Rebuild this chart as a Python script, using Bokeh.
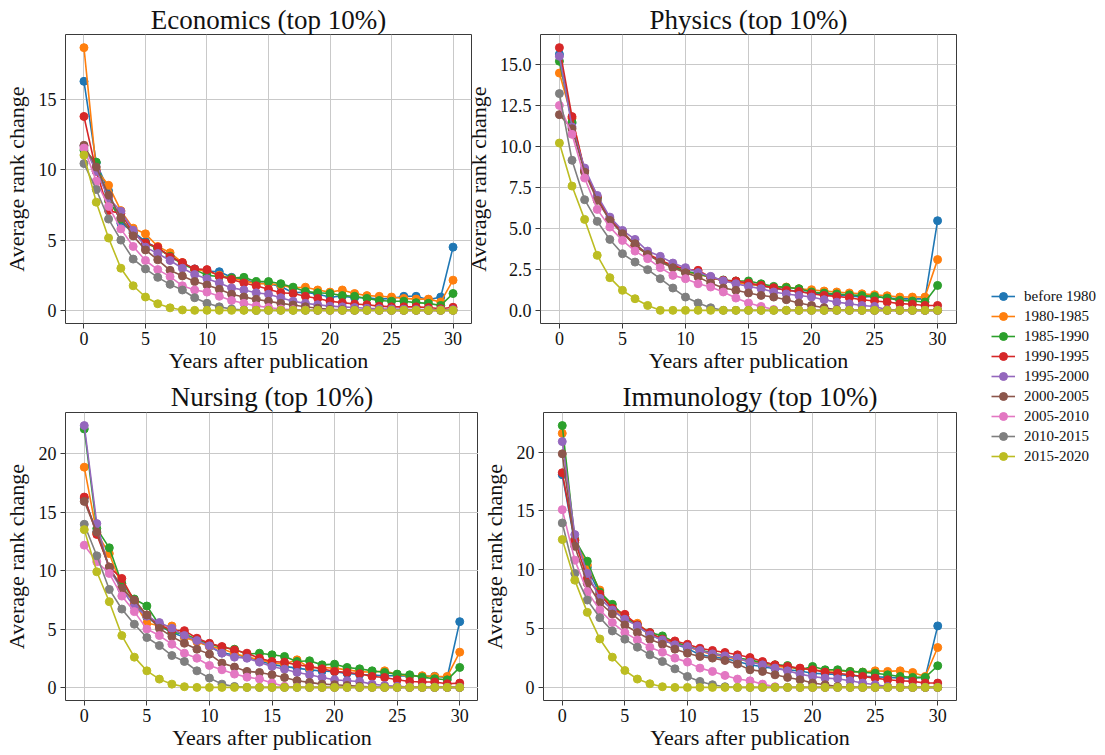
import math
from bokeh.plotting import figure
from bokeh.models import (FixedTicker, Range1d, Label, Legend, LegendItem,
                          NumeralTickFormatter)
from bokeh.layouts import row, column
from bokeh.embed import file_html
from bokeh.resources import INLINE

# ---------------- data ----------------
years = list(range(31))
x_ticks = [0, 5, 10, 15, 20, 25, 30]
series_labels = ["before 1980", "1980-1985", "1985-1990", "1990-1995", "1995-2000",
                 "2000-2005", "2005-2010", "2010-2015", "2015-2020"]
colors = ["#1f77b4", "#ff7f0e", "#2ca02c", "#d62728", "#9467bd",
          "#8c564b", "#e377c2", "#7f7f7f", "#bcbd22"]

econ_b1980 = [16.3, 10.5, 8.5, 6.2, 5.6, 4.9, 4.4, 3.9, 3.35, 2.95, 2.8, 2.75, 2.35, 2.2, 1.95, 1.9, 1.7, 1.25, 1.3, 1.15, 0.95, 1.0, 0.9, 0.9, 0.8, 0.85, 1.0, 1.0, 0.75, 0.95, 4.5]
econ_1980 = [18.7, 10.0, 8.9, 7.1, 5.85, 5.45, 4.55, 4.1, 3.4, 2.9, 2.8, 2.5, 2.3, 2.1, 1.9, 1.9, 1.8, 1.6, 1.65, 1.45, 1.3, 1.45, 1.2, 1.05, 1.0, 0.95, 0.85, 0.8, 0.8, 0.6, 2.15]
econ_1985 = [11.4, 10.55, 7.8, 6.5, 5.5, 4.8, 4.4, 3.85, 3.3, 2.9, 2.5, 2.4, 2.3, 2.35, 2.05, 2.05, 1.9, 1.65, 1.35, 1.25, 1.2, 1.05, 1.0, 0.85, 0.7, 0.65, 0.65, 0.55, 0.5, 0.35, 1.2]
econ_1990 = [13.8, 9.9, 7.1, 6.9, 5.5, 4.8, 4.5, 3.8, 3.4, 2.95, 2.9, 2.45, 2.2, 1.95, 1.75, 1.5, 1.25, 1.2, 1.0, 0.85, 0.65, 0.55, 0.45, 0.4, 0.3, 0.25, 0.25, 0.25, 0.2, 0.12, 0.22]
econ_1995 = [11.7, 9.9, 8.0, 7.05, 5.7, 4.5, 4.05, 3.55, 3.0, 2.55, 2.25, 1.95, 1.6, 1.45, 1.25, 1.15, 0.9, 0.65, 0.5, 0.4, 0.3, 0.25, 0.2, 0.15, 0.12, 0.1, 0.08, 0.06, 0.05, 0.04, 0.05]
econ_2000 = [11.75, 10.2, 8.2, 6.6, 5.3, 4.3, 3.6, 2.85, 2.45, 2.05, 1.8, 1.5, 1.15, 0.95, 0.78, 0.65, 0.5, 0.38, 0.26, 0.15, 0.07, 0.05, 0.03, 0.02, 0.01, 0.0, 0.0, 0.0, 0.0, 0.0, 0.0]
econ_2005 = [11.55, 9.2, 7.4, 5.8, 4.55, 3.55, 2.9, 2.4, 1.75, 1.45, 1.3, 1.0, 0.7, 0.5, 0.32, 0.2, 0.1, 0.05, 0.02, 0.0, 0.0, 0.0, 0.0, 0.0, 0.0, 0.0, 0.0, 0.0, 0.0, 0.0, 0.0]
econ_2010 = [10.45, 8.6, 6.5, 5.0, 3.65, 2.95, 2.35, 1.85, 1.45, 0.9, 0.5, 0.25, 0.1, 0.02, 0.0, 0.0, 0.0, 0.0, 0.0, 0.0, 0.0, 0.0, 0.0, 0.0, 0.0, 0.0, 0.0, 0.0, 0.0, 0.0, 0.0]
econ_2015 = [11.05, 7.7, 5.15, 3.0, 1.75, 0.95, 0.47, 0.18, 0.03, 0.0, 0.0, 0.0, 0.0, 0.0, 0.0, 0.0, 0.0, 0.0, 0.0, 0.0, 0.0, 0.0, 0.0, 0.0, 0.0, 0.0, 0.0, 0.0, 0.0, 0.0, 0.0]

phys_b1980 = [15.6, 11.4, 8.5, 6.8, 5.5, 4.75, 3.95, 3.4, 3.0, 2.7, 2.35, 2.25, 2.0, 1.8, 1.7, 1.6, 1.5, 1.35, 1.25, 1.15, 1.05, 1.0, 0.95, 0.88, 0.82, 0.85, 0.75, 0.7, 0.7, 0.7, 5.46]
phys_1980 = [14.45, 11.7, 8.45, 6.9, 5.5, 4.75, 3.96, 3.4, 3.0, 2.7, 2.35, 2.2, 2.0, 1.8, 1.7, 1.6, 1.5, 1.4, 1.42, 1.32, 1.26, 1.18, 1.12, 1.06, 1.01, 0.95, 0.89, 0.81, 0.81, 0.81, 3.09]
phys_1985 = [15.17, 11.47, 8.5, 6.85, 5.55, 4.8, 3.96, 3.4, 3.0, 2.7, 2.35, 2.25, 2.0, 1.85, 1.79, 1.79, 1.62, 1.46, 1.4, 1.32, 1.12, 1.05, 1.0, 0.95, 0.9, 0.85, 0.75, 0.61, 0.57, 0.51, 1.52]
phys_1990 = [16.0, 11.8, 8.5, 6.9, 5.55, 4.8, 3.96, 3.45, 3.05, 2.74, 2.5, 2.44, 2.0, 1.83, 1.79, 1.66, 1.52, 1.38, 1.22, 1.15, 1.01, 0.91, 0.85, 0.77, 0.65, 0.57, 0.51, 0.41, 0.37, 0.3, 0.3]
phys_1995 = [15.47, 11.17, 8.67, 7.0, 5.68, 4.87, 4.32, 3.61, 3.29, 2.88, 2.6, 2.3, 2.07, 1.8, 1.62, 1.46, 1.32, 1.12, 1.0, 0.91, 0.81, 0.65, 0.5, 0.4, 0.3, 0.24, 0.04, 0.02, 0.01, 0.0, 0.0]
phys_2000 = [11.92, 11.06, 8.42, 6.7, 5.48, 4.67, 4.06, 3.4, 2.94, 2.6, 2.29, 2.03, 1.66, 1.36, 1.22, 1.06, 0.91, 0.81, 0.65, 0.45, 0.3, 0.16, 0.04, 0.01, 0.0, 0.0, 0.0, 0.0, 0.0, 0.0, 0.0]
phys_2005 = [12.48, 10.72, 8.06, 6.15, 5.07, 4.26, 3.61, 3.15, 2.6, 2.13, 1.93, 1.62, 1.42, 1.12, 0.75, 0.45, 0.24, 0.05, 0.0, 0.0, 0.0, 0.0, 0.0, 0.0, 0.0, 0.0, 0.0, 0.0, 0.0, 0.0, 0.0]
phys_2010 = [13.2, 9.14, 6.74, 5.42, 4.32, 3.45, 2.94, 2.48, 1.93, 1.36, 0.81, 0.45, 0.16, 0.0, 0.0, 0.0, 0.0, 0.0, 0.0, 0.0, 0.0, 0.0, 0.0, 0.0, 0.0, 0.0, 0.0, 0.0, 0.0, 0.0, 0.0]
phys_2015 = [10.19, 7.57, 5.54, 3.35, 1.99, 1.22, 0.71, 0.3, 0.0, 0.0, 0.0, 0.0, 0.0, 0.0, 0.0, 0.0, 0.0, 0.0, 0.0, 0.0, 0.0, 0.0, 0.0, 0.0, 0.0, 0.0, 0.0, 0.0, 0.0, 0.0, 0.0]

nurs_b1980 = [16.2, 13.3, 10.2, 8.6, 7.2, 6.0, 5.3, 4.7, 4.3, 4.0, 3.5, 2.95, 2.8, 2.6, 2.3, 1.95, 1.8, 1.65, 1.5, 1.4, 1.35, 1.2, 1.1, 1.05, 1.0, 1.0, 0.95, 0.95, 0.95, 0.85, 5.63]
nurs_1980 = [18.86, 13.2, 11.46, 8.6, 7.3, 5.49, 5.3, 5.26, 4.3, 3.9, 3.5, 3.3, 2.9, 2.6, 2.4, 2.1, 2.0, 2.36, 1.7, 1.7, 1.65, 1.5, 1.35, 1.3, 1.42, 1.1, 1.0, 1.0, 0.94, 0.94, 3.02]
nurs_1985 = [22.13, 13.6, 11.95, 8.9, 7.57, 6.97, 5.35, 4.7, 4.6, 4.1, 3.7, 3.45, 3.27, 2.85, 2.93, 2.79, 2.65, 2.22, 2.28, 1.93, 1.99, 1.71, 1.59, 1.42, 1.28, 1.14, 1.08, 0.88, 0.74, 0.65, 1.71]
nurs_1990 = [16.3, 13.1, 10.3, 9.33, 7.4, 6.2, 5.35, 4.9, 4.86, 4.21, 3.78, 3.5, 3.21, 2.93, 2.5, 2.22, 2.16, 1.93, 1.79, 1.59, 1.37, 1.28, 1.17, 0.94, 0.85, 0.65, 0.51, 0.46, 0.46, 0.31, 0.37]
nurs_1995 = [22.42, 14.03, 10.1, 8.4, 6.91, 6.1, 5.55, 5.06, 4.44, 4.01, 3.56, 2.93, 2.59, 2.5, 2.16, 1.79, 1.56, 1.28, 1.08, 0.85, 0.65, 0.57, 0.51, 0.28, 0.17, 0.09, 0.04, 0.02, 0.01, 0.0, 0.0]
nurs_2000 = [15.93, 13.3, 10.3, 8.48, 7.48, 6.2, 5.06, 4.35, 3.78, 3.27, 2.85, 2.08, 1.74, 1.37, 1.28, 1.08, 0.85, 0.57, 0.43, 0.28, 0.23, 0.17, 0.09, 0.04, 0.02, 0.0, 0.0, 0.0, 0.0, 0.0, 0.0]
nurs_2005 = [12.18, 10.75, 9.76, 7.82, 6.49, 5.0, 4.44, 3.7, 2.93, 2.5, 1.88, 1.51, 1.14, 0.88, 0.72, 0.37, 0.09, 0.02, 0.0, 0.0, 0.0, 0.0, 0.0, 0.0, 0.0, 0.0, 0.0, 0.0, 0.0, 0.0, 0.0]
nurs_2010 = [13.97, 11.27, 8.39, 6.71, 5.41, 4.27, 3.58, 2.73, 2.22, 1.42, 0.8, 0.28, 0.08, 0.0, 0.0, 0.0, 0.0, 0.0, 0.0, 0.0, 0.0, 0.0, 0.0, 0.0, 0.0, 0.0, 0.0, 0.0, 0.0, 0.0, 0.0]
nurs_2015 = [13.51, 9.9, 7.34, 4.44, 2.59, 1.42, 0.71, 0.28, 0.06, 0.0, 0.0, 0.0, 0.0, 0.0, 0.0, 0.0, 0.0, 0.0, 0.0, 0.0, 0.0, 0.0, 0.0, 0.0, 0.0, 0.0, 0.0, 0.0, 0.0, 0.0, 0.0]

imm_b1980 = [18.08, 12.3, 10.2, 7.9, 6.7, 6.0, 5.2, 4.5, 4.0, 3.7, 3.3, 2.77, 2.6, 2.45, 2.2, 1.92, 1.75, 1.6, 1.5, 1.4, 1.21, 1.15, 1.1, 1.0, 0.95, 0.9, 0.85, 0.8, 0.8, 0.85, 5.23]
imm_1980 = [21.6, 12.5, 10.4, 8.28, 6.72, 6.0, 5.45, 4.6, 4.05, 3.75, 3.45, 3.1, 2.8, 2.6, 2.4, 2.2, 2.0, 1.8, 1.7, 1.6, 1.5, 1.4, 1.4, 1.35, 1.3, 1.41, 1.36, 1.41, 1.27, 0.93, 3.39]
imm_1985 = [22.26, 12.6, 10.73, 8.1, 7.06, 6.0, 5.3, 4.66, 4.38, 3.85, 3.5, 3.2, 2.9, 2.7, 2.5, 2.34, 2.1, 1.92, 1.86, 1.5, 1.78, 1.5, 1.5, 1.36, 1.3, 1.21, 1.07, 0.93, 0.85, 0.85, 1.84]
imm_1990 = [18.25, 12.5, 9.27, 7.94, 6.72, 6.21, 5.31, 4.66, 4.1, 3.95, 3.67, 3.33, 3.14, 2.97, 2.77, 2.54, 2.2, 1.92, 1.78, 1.64, 1.5, 1.3, 1.21, 1.07, 0.93, 0.79, 0.65, 0.56, 0.51, 0.37, 0.37]
imm_1995 = [20.9, 12.99, 9.69, 7.57, 6.58, 5.79, 5.23, 4.46, 4.04, 3.62, 3.47, 3.14, 2.85, 2.68, 2.49, 2.15, 1.92, 1.64, 1.41, 1.13, 0.93, 0.79, 0.73, 0.56, 0.37, 0.23, 0.08, 0.03, 0.01, 0.0, 0.0]
imm_2000 = [19.86, 12.0, 8.84, 7.2, 6.24, 5.31, 4.66, 4.1, 3.67, 3.25, 2.91, 2.63, 2.49, 2.29, 1.98, 1.5, 1.36, 1.07, 0.85, 0.65, 0.37, 0.23, 0.08, 0.03, 0.01, 0.0, 0.0, 0.0, 0.0, 0.0, 0.0]
imm_2005 = [15.11, 10.82, 8.14, 6.58, 5.51, 4.66, 4.04, 3.42, 2.99, 2.49, 2.15, 1.64, 1.36, 1.02, 0.71, 0.56, 0.28, 0.06, 0.0, 0.0, 0.0, 0.0, 0.0, 0.0, 0.0, 0.0, 0.0, 0.0, 0.0, 0.0, 0.0]
imm_2010 = [13.98, 9.69, 7.43, 5.93, 4.8, 4.1, 3.42, 2.77, 2.2, 1.58, 0.93, 0.51, 0.23, 0.06, 0.0, 0.0, 0.0, 0.0, 0.0, 0.0, 0.0, 0.0, 0.0, 0.0, 0.0, 0.0, 0.0, 0.0, 0.0, 0.0, 0.0]
imm_2015 = [12.57, 9.12, 6.38, 4.12, 2.57, 1.44, 0.71, 0.31, 0.06, 0.0, 0.0, 0.0, 0.0, 0.0, 0.0, 0.0, 0.0, 0.0, 0.0, 0.0, 0.0, 0.0, 0.0, 0.0, 0.0, 0.0, 0.0, 0.0, 0.0, 0.0, 0.0]

econ_yticks = [0, 5, 10, 15]
phys_yticks = [0, 2.5, 5, 7.5, 10, 12.5, 15]
nurs_yticks = [0, 5, 10, 15, 20]
imm_yticks = [0, 5, 10, 15, 20]

econ = [econ_b1980, econ_1980, econ_1985, econ_1990, econ_1995, econ_2000, econ_2005, econ_2010, econ_2015]
phys = [phys_b1980, phys_1980, phys_1985, phys_1990, phys_1995, phys_2000, phys_2005, phys_2010, phys_2015]
nurs = [nurs_b1980, nurs_1980, nurs_1985, nurs_1990, nurs_1995, nurs_2000, nurs_2005, nurs_2010, nurs_2015]
imm = [imm_b1980, imm_1980, imm_1985, imm_1990, imm_1995, imm_2000, imm_2005, imm_2010, imm_2015]

# ---------------- styling ----------------
FONT = "Liberation Serif"
TXT = "#111111"
SPINE = "#3a3a3a"
GRID = "#c9c9c9"
YLABEL = "Average rank change"
XLABEL = "Years after publication"
MARKER = 8


def make_panel(title, series, yticks, width, height, bl, br, bt, bb,
               decimal=False, ylabel=True, title_standoff=0):
    ymax = max(max(s) for s in series)
    p = figure(width=width, height=height, output_backend="svg", toolbar_location=None,
               x_range=Range1d(-1.5, 31.5), y_range=Range1d(-0.05 * ymax, 1.05 * ymax),
               min_border_left=bl, min_border_right=br, min_border_top=bt,
               min_border_bottom=bb)
    p.title.text = title
    p.title.text_font = FONT
    p.title.text_font_size = "27px"
    p.title.text_font_style = "normal"
    p.title.text_color = TXT
    p.title.align = "center"
    p.title.standoff = title_standoff

    p.xaxis.ticker = FixedTicker(ticks=x_ticks)
    p.yaxis.ticker = FixedTicker(ticks=yticks)
    if decimal:
        p.yaxis.formatter = NumeralTickFormatter(format="0.0")
    for ax in p.axis:
        ax.major_label_text_font = FONT
        ax.major_label_text_font_size = "18px"
        ax.major_label_text_color = TXT
        ax.axis_line_color = None
        ax.major_tick_line_color = SPINE
        ax.major_tick_out = 5
        ax.major_tick_in = 0
        ax.minor_tick_line_color = None
        ax.axis_label_text_font = FONT
        ax.axis_label_text_font_size = "22px"
        ax.axis_label_text_font_style = "normal"
        ax.axis_label_text_color = TXT
    p.xaxis.axis_label = XLABEL
    p.xaxis.major_label_standoff = 3
    p.xaxis.axis_label_standoff = 0
    p.yaxis.major_label_standoff = 4
    p.yaxis.axis_label_standoff = 7
    if ylabel:
        p.yaxis.axis_label = YLABEL

    p.grid.grid_line_color = GRID
    p.grid.grid_line_width = 1
    p.outline_line_color = SPINE
    p.outline_line_width = 1
    p.background_fill_color = "white"
    p.border_fill_color = "white"

    for s, c in zip(series, colors):
        p.line(years, s, line_color=c, line_width=1.6)
        p.scatter(years, s, size=MARKER, fill_color=c, line_color=c)
    return p


p1 = make_panel("Economics (top 10%)", econ, econ_yticks, 496, 375, 62, 18, 34, 52)
p2 = make_panel("Physics (top 10%)", phys, phys_yticks, 461, 375, 43, 1, 34, 52,
                decimal=True, ylabel=False)
p3 = make_panel("Nursing (top 10%)", nurs, nurs_yticks, 478, 377, 62, 0, 37, 52,
                title_standoff=1)
p4 = make_panel("Immunology (top 10%)", imm, imm_yticks, 479, 377, 61, 1, 37, 52,
                title_standoff=1)

# y label of the Physics panel sits in the gap between the two top panels
p1.add_layout(Label(x=7, y=144.5, x_units="screen", y_units="screen",
                    text=YLABEL, angle=math.pi / 2, text_align="center",
                    text_baseline="middle", text_font=FONT, text_font_size="22px",
                    text_color=TXT), "right")

# legend panel
p5 = figure(width=148, height=752, output_backend="svg", toolbar_location=None,
            x_axis_type=None, y_axis_type=None, x_range=Range1d(0, 1),
            y_range=Range1d(0, 1), min_border=0, outline_line_color=None)
p5.grid.visible = False
items = []
for lab, c in zip(series_labels, colors):
    r1 = p5.line([5, 6], [5, 6], line_color=c, line_width=1.6)
    r2 = p5.scatter([5], [5], size=MARKER, fill_color=c, line_color=c)
    items.append(LegendItem(label=lab, renderers=[r1, r2]))
leg = Legend(items=items, location=(34, 286), glyph_width=24, glyph_height=20,
             label_height=20, spacing=0, padding=0, margin=0, label_standoff=9,
             border_line_color=None, background_fill_alpha=0,
             label_text_font=FONT, label_text_font_size="15px", label_text_color=TXT)
p5.add_layout(leg)

layout = row(column(row(p1, p2), row(p3, p4)), p5)

with open("out.html", "w") as f:
    f.write(file_html(layout, INLINE))
